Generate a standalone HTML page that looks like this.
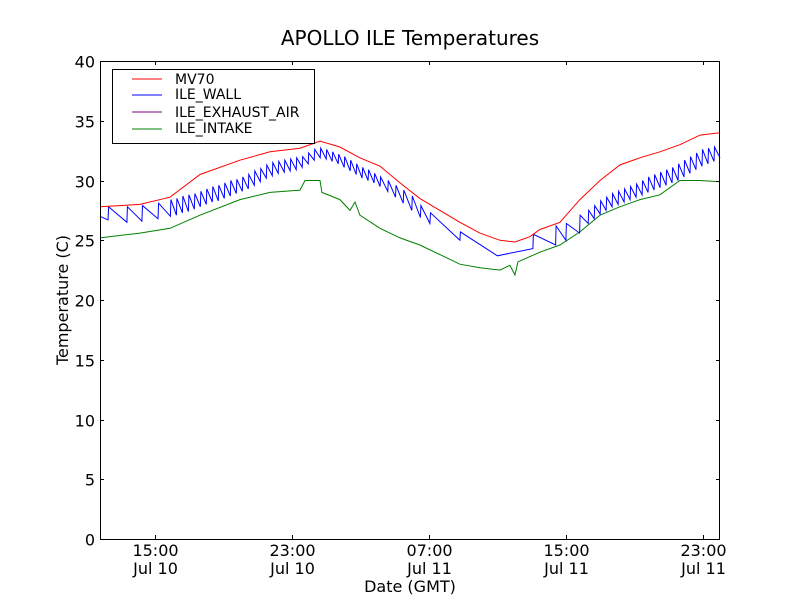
<!DOCTYPE html>
<html><head><meta charset="utf-8"><style>
body{margin:0;background:#fff;}
svg text{font-family:"DejaVu Sans","Liberation Sans",sans-serif;fill:#000;}
</style></head><body>
<svg id="chart" width="800" height="600" viewBox="0 0 800 600" xmlns="http://www.w3.org/2000/svg">
<rect width="800" height="600" fill="#fff"/>
<text x="410" y="45" font-size="20" text-anchor="middle">APOLLO ILE Temperatures</text>
<g id="plot"></g>
<rect x="100.5" y="61.5" width="619" height="478" fill="none" stroke="#000" stroke-width="1"/>
<g id="axes"></g>
<text transform="translate(68,300) rotate(-90)" font-size="16" text-anchor="middle">Temperature (C)</text>
<text x="410" y="592" font-size="16" text-anchor="middle">Date (GMT)</text>
<g>
<rect x="112.5" y="69.5" width="202" height="74" fill="#fff" stroke="#000" stroke-width="1"/>
<line x1="132" y1="79" x2="162" y2="79" stroke="#ff0000" stroke-width="1"/>
<text x="175" y="84" font-size="14">MV70</text>
<line x1="132" y1="95" x2="162" y2="95" stroke="#0000ff" stroke-width="1"/>
<text x="175" y="99" font-size="14">ILE_WALL</text>
<line x1="132" y1="112" x2="162" y2="112" stroke="#800080" stroke-width="1"/>
<text x="175" y="117" font-size="14">ILE_EXHAUST_AIR</text>
<line x1="132" y1="129" x2="162" y2="129" stroke="#008000" stroke-width="1"/>
<text x="175" y="133" font-size="14">ILE_INTAKE</text>
</g>
</svg>
<script>
// hours since Jul 10 00:00 GMT
const xMin = 11.79, xMax = 48.0, yMin = 0, yMax = 40;
const yTicks = [0,5,10,15,20,25,30,35,40];
const xTickHours = [15,23,31,39,47];
const xTickTimes = ["15:00","23:00","07:00","15:00","23:00"];
const xTickDates = ["Jul 10","Jul 10","Jul 11","Jul 11","Jul 11"];

const mvTimes = [11.79,14.12,15.88,17.63,19.96,21.72,23.47,24.64,25.8,26.97,28.14,29.31,30.47,31.64,32.81,33.98,35.15,36.02,36.9,37.48,38.65,39.82,40.99,42.15,43.32,44.49,45.66,46.84,48.0];
const mvValues = [27.8,28.0,28.6,30.5,31.7,32.4,32.7,33.3,32.8,31.9,31.2,29.8,28.5,27.5,26.5,25.6,25.0,24.85,25.3,25.9,26.5,28.4,30.0,31.3,31.9,32.4,33.0,33.8,34.0];

const intakeTimes = [11.79,14.12,15.88,17.63,19.96,21.72,23.47,23.76,24.64,24.75,25.8,26.39,26.68,26.97,28.14,29.31,30.47,31.64,32.81,33.98,35.15,35.73,36.02,36.2,37.48,38.65,39.82,40.99,42.15,43.32,44.49,45.66,46.84,48.0];
const intakeValues = [25.2,25.6,26.0,27.1,28.4,29.0,29.2,30.0,30.0,29.0,28.4,27.5,28.2,27.1,26.0,25.2,24.6,23.8,23.0,22.7,22.5,22.9,22.1,23.2,24.0,24.6,25.7,27.1,27.8,28.4,28.8,30.0,30.0,29.9];

const wallSpikeTimes = [12.26,13.36,14.24,15.18,15.9,16.25,16.6,16.95,17.3,17.65,18.0,18.35,18.7,19.05,19.4,19.75,20.1,20.45,20.8,21.15,21.5,21.85,22.2,22.55,22.9,23.25,23.6,23.95,24.3,24.65,25.0,25.35,25.7,26.05,26.4,26.75,27.1,27.45,27.8,28.15,28.6,29.05,29.5,30.0,30.5,31.06,32.81,37.07,38.4,39.0,39.8,40.3,40.65,41.0,41.35,41.7,42.05,42.4,42.75,43.1,43.45,43.8,44.15,44.5,44.85,45.2,45.55,45.9,46.25,46.6,46.95,47.3,47.65];
const wallTroughs = [26.7,26.5,26.6,26.8,27.0,27.1,27.3,27.4,27.6,27.8,28.0,28.2,28.3,28.5,28.7,28.9,29.1,29.3,29.6,29.9,30.2,30.4,30.6,30.7,30.8,30.9,31.1,31.4,31.7,31.9,31.8,31.6,31.4,31.1,30.8,30.5,30.2,30.0,29.8,29.5,29.1,28.6,28.1,27.5,26.9,26.4,25.0,24.3,24.6,25.0,25.6,26.4,26.8,27.2,27.5,27.8,28.0,28.2,28.4,28.6,28.8,29.0,29.2,29.4,29.6,29.8,30.0,30.3,30.6,30.9,31.2,31.4,31.6];
const wallPeaks = [27.8,27.8,27.9,28.1,28.4,28.5,28.7,28.8,28.9,29.1,29.3,29.5,29.6,29.8,30.0,30.1,30.3,30.5,30.8,31.0,31.3,31.5,31.6,31.7,31.8,31.9,32.0,32.3,32.6,32.7,32.6,32.4,32.2,32.0,31.7,31.4,31.1,30.9,30.6,30.3,30.0,29.6,29.2,28.7,27.9,27.3,25.7,25.5,26.2,26.4,27.1,27.5,27.9,28.3,28.6,28.9,29.1,29.3,29.5,29.7,30.0,30.3,30.5,30.7,30.9,31.1,31.4,31.7,32.0,32.3,32.6,32.7,32.8];
const wallStart = 27.0, wallEnd = 31.9, wallMinTime = 35.0, wallMin = 23.7;

const L=100,R=720,T=61,B=539;
const sx = h => L + (h - xMin) / (xMax - xMin) * (R - L);
const sy = v => B - (v - yMin) / (yMax - yMin) * (B - T);
const NS="http://www.w3.org/2000/svg";
const plot=document.getElementById('plot'), axes=document.getElementById('axes');
function mk(tag, attrs, parent){const e=document.createElementNS(NS,tag);for(const k in attrs)e.setAttribute(k,attrs[k]);parent.appendChild(e);return e;}

let wp=[[wallSpikeTimes[0]-0.47,wallStart]];
for(let i=0;i<wallSpikeTimes.length;i++){
  const t=wallSpikeTimes[i];
  if(t>wallMinTime && wp[wp.length-1][0]<wallMinTime) wp.push([wallMinTime,wallMin]);
  wp.push([t,wallTroughs[i]]);wp.push([t+0.03,wallPeaks[i]]);
}
wp.push([xMax,wallEnd]);
function pathFrom(pts){return pts.map((p,i)=>(i?'L':'M')+sx(p[0]).toFixed(1)+','+sy(p[1]).toFixed(1)).join('');}

const gp=mk('path',{d:pathFrom(intakeTimes.map((t,i)=>[t,intakeValues[i]])),fill:'none',stroke:'#008000','stroke-width':1},plot);


const bp=mk('path',{d:pathFrom(wp),fill:'none',stroke:'#0000ff','stroke-width':1},plot);


const rp=mk('path',{d:pathFrom(mvTimes.map((t,i)=>[t,mvValues[i]])),fill:'none',stroke:'#ff0000','stroke-width':1},plot);



yTicks.forEach(v=>{
  const y=Math.round(sy(v))+0.5;
  mk('line',{x1:L,y1:y,x2:L+4,y2:y,stroke:'#000'},axes);
  mk('line',{x1:R-4,y1:y,x2:R,y2:y,stroke:'#000'},axes);
  const t=mk('text',{x:95,y:y+6,'font-size':16,'text-anchor':'end'},axes);
  t.textContent=v;
  
  
});
xTickHours.forEach((h,i)=>{
  const x=Math.round(sx(h))+0.5;
  mk('line',{x1:x,y1:B,x2:x,y2:B-4,stroke:'#000'},axes);
  mk('line',{x1:x,y1:T,x2:x,y2:T+4,stroke:'#000'},axes);
  const t1=mk('text',{x:x,y:556,'font-size':16,'text-anchor':'middle'},axes);
  t1.textContent=xTickTimes[i];
  
  
  const t2=mk('text',{x:x,y:574,'font-size':16,'text-anchor':'middle'},axes);
  t2.textContent=xTickDates[i];
  
  
});
</script>
</body></html>
